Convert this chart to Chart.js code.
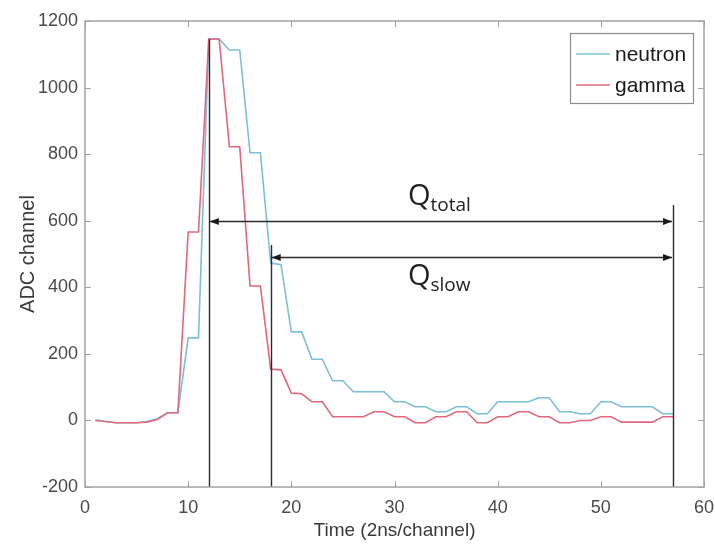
<!DOCTYPE html>
<html>
<head>
<meta charset="utf-8">
<script src="https://cdn.jsdelivr.net/npm/chart.js@4.4.1/dist/chart.umd.min.js"></script>
<style>
  html, body { margin: 0; padding: 0; background: #fff; }
  #wrap { width: 715px; height: 546px; }
</style>
</head>
<body>
<div id="wrap"><canvas id="pulse" width="715" height="546"></canvas></div>
<script>
// time channel (2 ns per channel)
const channels = [1, 2, 3, 4, 5, 6, 7, 8, 9, 10, 11, 12, 13, 14, 15, 16, 17, 18, 19, 20,
  21, 22, 23, 24, 25, 26, 27, 28, 29, 30, 31, 32, 33, 34, 35, 36, 37, 38, 39, 40,
  41, 42, 43, 44, 45, 46, 47, 48, 49, 50, 51, 52, 53, 54, 55, 56, 57];

const neutron = [2, -3, -7, -7, -7, -3, 5, 23, 23, 248, 248, 1146, 1146, 1113, 1113, 804, 804, 473, 468, 266,
  266, 184, 184, 119, 119, 86, 86, 86, 86, 56, 56, 41, 41, 26, 26, 41, 41, 20, 20, 56,
  56, 56, 56, 68, 68, 26, 26, 20, 20, 56, 56, 41, 41, 41, 41, 20, 20];

const gamma = [0, -3, -7, -7, -7, -5, 3, 23, 23, 566, 566, 1146, 1146, 822, 822, 404, 404, 154, 152, 82,
  80, 56, 56, 11, 11, 11, 11, 26, 26, 11, 11, -7, -7, 11, 11, 26, 26, -7, -7, 11,
  11, 26, 26, 11, 11, -7, -7, 0, 0, 11, 11, -5, -5, -5, -5, 11, 11];

// integration window markers
const cutChannels = [12, 18, 57];
const cutTops = [1146, 527, 647];

// Q arrows: label, start, end, arrow level, label anchor
const qNames = ['total', 'slow'];
const qStart = [12, 18];
const qEnd = [57, 57];
const qLevel = [600, 490];
const qTextX = [31.3, 31.3];
const qTextY = [647, 407];

const toXY = (ys) => channels.map((c, i) => ({ x: c, y: ys[i] }));

const decor = {
  id: 'decor',
  afterDatasetsDraw(chart) {
    const { ctx, chartArea: a, scales: { x, y } } = chart;
    ctx.save();

    // vertical window lines
    ctx.strokeStyle = '#2b2b2b';
    ctx.lineWidth = 1.4;
    cutChannels.forEach((c, i) => {
      const px = Math.round(x.getPixelForValue(c)) + 0.5;
      ctx.beginPath();
      ctx.moveTo(px, y.getPixelForValue(cutTops[i]));
      ctx.lineTo(px, a.bottom);
      ctx.stroke();
    });

    // double arrows
    ctx.fillStyle = '#1a1a1a';
    qNames.forEach((n, i) => {
      const x0 = x.getPixelForValue(qStart[i]) + 1;
      const x1 = x.getPixelForValue(qEnd[i]) - 1;
      const py = Math.round(y.getPixelForValue(qLevel[i])) + 0.5;
      ctx.beginPath();
      ctx.moveTo(x0, py);
      ctx.lineTo(x1, py);
      ctx.stroke();
      ctx.beginPath();
      ctx.moveTo(x0, py); ctx.lineTo(x0 + 9, py - 3.5); ctx.lineTo(x0 + 9, py + 3.5); ctx.closePath();
      ctx.fill();
      ctx.beginPath();
      ctx.moveTo(x1, py); ctx.lineTo(x1 - 9, py - 3.5); ctx.lineTo(x1 - 9, py + 3.5); ctx.closePath();
      ctx.fill();

      // Q labels
      const tx = x.getPixelForValue(qTextX[i]);
      const ty = y.getPixelForValue(qTextY[i]);
      ctx.fillStyle = '#222';
      ctx.textBaseline = 'alphabetic';
      ctx.textAlign = 'left';
      ctx.font = '29px "Open Sans", sans-serif';
      ctx.fillText('Q', tx, ty);
      const qw = ctx.measureText('Q').width;
      ctx.font = '19px "Open Sans", sans-serif';
      ctx.fillText(n, tx + qw, ty + 6);
      ctx.fillStyle = '#1a1a1a';
    });

    // frame + inward ticks (MATLAB style)
    ctx.strokeStyle = '#a3a3a3';
    ctx.lineWidth = 1.5;
    ctx.strokeRect(a.left, a.top, a.right - a.left, a.bottom - a.top);
    ctx.lineWidth = 1;
    ctx.beginPath();
    x.ticks.forEach(t => {
      const px = Math.round(x.getPixelForValue(t.value)) + 0.5;
      ctx.moveTo(px, a.bottom); ctx.lineTo(px, a.bottom - 6);
      ctx.moveTo(px, a.top); ctx.lineTo(px, a.top + 6);
    });
    y.ticks.forEach(t => {
      const py = Math.round(y.getPixelForValue(t.value)) + 0.5;
      ctx.moveTo(a.left, py); ctx.lineTo(a.left + 6, py);
      ctx.moveTo(a.right, py); ctx.lineTo(a.right - 6, py);
    });
    ctx.stroke();

    // legend box
    const bw = 123, bh = 70;
    const bx = a.right - 11 - bw, by = a.top + 12;
    ctx.fillStyle = '#fff';
    ctx.fillRect(bx, by, bw, bh);
    ctx.strokeStyle = '#8c8c8c';
    ctx.lineWidth = 1.2;
    ctx.strokeRect(bx + 0.5, by + 0.5, bw, bh);
    ctx.font = '21px "Liberation Sans", Arial, sans-serif';
    ctx.textBaseline = 'middle';
    chart.data.datasets.forEach((ds, i) => {
      const ly = by + 21 + i * 31;
      ctx.strokeStyle = ds.borderColor;
      ctx.lineWidth = 1.5;
      ctx.beginPath();
      ctx.moveTo(bx + 6, ly); ctx.lineTo(bx + 40, ly);
      ctx.stroke();
      ctx.fillStyle = '#1a1a1a';
      ctx.fillText(ds.label, bx + 45, ly + 1);
    });

    ctx.restore();
  }
};

const tickFont = { family: '"Liberation Sans", Arial', size: 18 };

new Chart(document.getElementById('pulse'), {
  type: 'line',
  plugins: [decor],
  data: {
    datasets: [{
      label: 'neutron',
      data: toXY(neutron),
      borderColor: '#7cc0d6',
      borderWidth: 1.6,
      pointRadius: 0,
      tension: 0,
      order: 2
    }, {
      label: 'gamma',
      data: toXY(gamma),
      borderColor: '#e2687b',
      borderWidth: 1.6,
      pointRadius: 0,
      tension: 0,
      order: 1
    }]
  },
  options: {
    responsive: false,
    animation: false,
    events: [],
    layout: { padding: { top: 21, right: 11, left: 0, bottom: 0 } },
    plugins: {
      legend: { display: false },
      tooltip: { enabled: false }
    },
    scales: {
      x: {
        type: 'linear',
        min: 0,
        max: 60,
        grid: { display: false, drawTicks: false },
        border: { display: false },
        ticks: { stepSize: 10, padding: 10, color: '#4a4a4a', font: tickFont, callback: (v) => String(v) },
        title: { display: true, text: 'Time (2ns/channel)', color: '#3a3a3a', padding: { top: 0, bottom: 4 }, font: { family: '"Liberation Sans", Arial', size: 19 } },
        afterFit: (s) => { s.height = 59; s.paddingLeft = 0; s.paddingRight = 0; }
      },
      y: {
        min: -200,
        max: 1200,
        grid: { display: false, drawTicks: false },
        border: { display: false },
        ticks: { stepSize: 200, padding: 7, color: '#4a4a4a', font: tickFont, callback: (v) => String(v) },
        title: { display: true, text: 'ADC channel', color: '#3a3a3a', padding: { top: 16, bottom: 0 }, font: { family: '"Liberation Sans", Arial', size: 20 } },
        afterFit: (s) => { s.width = 85; s.paddingTop = 0; s.paddingBottom = 0; }
      }
    }
  }
});
</script>
</body>
</html>
